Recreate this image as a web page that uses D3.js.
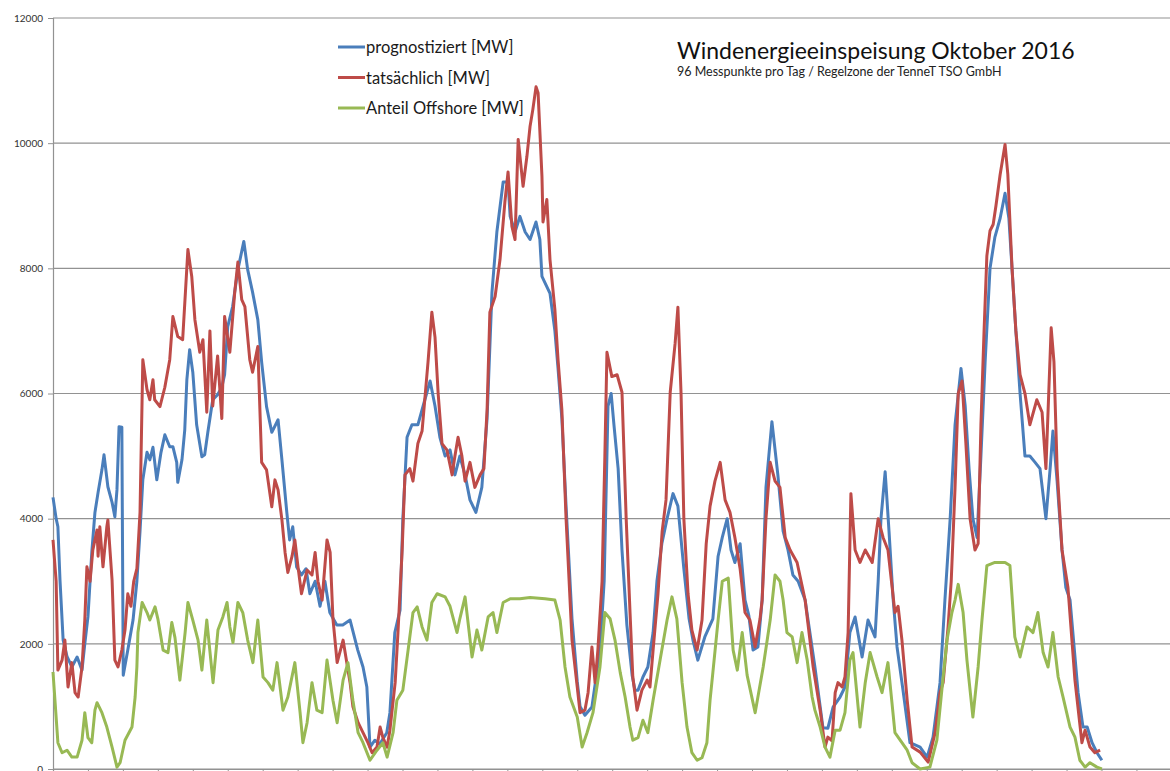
<!DOCTYPE html>
<html>
<head>
<meta charset="utf-8">
<script src="https://cdn.jsdelivr.net/npm/d3@7/dist/d3.min.js"></script>
<style>
  html, body { margin: 0; padding: 0; background: #fff; }
  svg { display: block; }
  text { font-family: Lato, "Open Sans", sans-serif; }
</style>
</head>
<body>
<div id="chart"></div>
<script>
var w = 1170,
    h = 771;

// Achsen: Tage im Oktober, Leistung in MW
var yTicks = [0, 2000, 4000, 6000, 8000, 10000, 12000];
var xTicks = d3.range(0, 33);

// Legende
var legendNames = ['prognostiziert [MW]', 'tatsächlich [MW]', 'Anteil Offshore [MW]'];
var titleText = 'Windenergieeinspeisung Oktober 2016';
var subTitleText = '96 Messpunkte pro Tag / Regelzone der TenneT TSO GmbH';

var prognose = [
  [0.00,4340],[0.09,4000],[0.14,3870],[0.20,3020],[0.29,2060],[0.40,1800],[0.54,1630],[0.69,1790],
  [0.83,1580],[0.91,2000],[1.00,2430],[1.11,3460],[1.20,4100],[1.29,4420],[1.40,4780],[1.46,5020],
  [1.57,4510],[1.69,4260],[1.77,4030],[1.83,4460],[1.89,5470],[1.97,5460],[2.01,1500],[2.14,1900],
  [2.29,2380],[2.40,3000],[2.49,3800],[2.57,4620],[2.69,5060],[2.77,4940],[2.86,5140],[2.97,4620],
  [3.09,5060],[3.20,5340],[3.34,5150],[3.43,5150],[3.54,4900],[3.57,4580],[3.69,4940],[3.77,5420],
  [3.83,6220],[3.91,6700],[4.00,6340],[4.11,5500],[4.26,4990],[4.34,5020],[4.43,5380],[4.57,5900],
  [4.71,5980],[4.83,6100],[4.91,6300],[5.00,7070],[5.14,7390],[5.29,7980],[5.46,8430],[5.57,7980],
  [5.71,7620],[5.86,7180],[5.97,6500],[6.11,5790],[6.26,5380],[6.44,5580],[6.55,4940],[6.69,4100],
  [6.77,3660],[6.86,3870],[6.97,3230],[7.11,3100],[7.24,3200],[7.35,2800],[7.50,3000],[7.64,2600],
  [7.78,3000],[7.92,2500],[8.12,2300],[8.29,2300],[8.50,2380],[8.72,1900],[8.87,1630],[8.98,1310],
  [9.07,350],[9.21,460],[9.35,400],[9.55,580],[9.64,900],[9.78,2180],[9.93,2540],[10.01,4000],
  [10.13,5300],[10.27,5500],[10.44,5500],[10.59,5800],[10.79,6200],[10.93,5800],[11.07,5300],[11.22,5000],
  [11.36,5100],[11.50,4700],[11.64,5000],[11.79,4700],[11.93,4300],[12.10,4100],[12.27,4500],[12.42,5600],
  [12.56,7620],[12.70,8580],[12.88,9380],[13.02,9380],[13.08,8830],[13.22,8580],[13.36,8830],[13.51,8580],
  [13.65,8460],[13.82,8740],[13.93,8460],[13.99,7870],[14.22,7600],[14.36,7000],[14.45,6400],[14.56,5600],
  [14.68,4200],[14.85,2400],[15.00,1400],[15.08,1000],[15.22,860],[15.42,990],[15.65,1900],[15.77,3000],
  [15.88,5800],[15.97,6000],[16.05,5500],[16.17,4800],[16.28,3500],[16.42,2300],[16.57,1500],[16.65,1260],
  [16.74,1260],[16.88,1470],[17.02,1630],[17.17,2180],[17.28,3000],[17.42,3600],[17.57,4000],[17.74,4400],
  [17.88,4200],[18.05,3200],[18.20,2400],[18.31,2060],[18.45,1740],[18.65,2110],[18.88,2400],[19.03,3400],
  [19.15,3700],[19.29,4000],[19.40,3500],[19.51,3300],[19.66,3600],[19.80,2700],[19.91,2450],[20.03,1900],
  [20.17,1950],[20.29,2700],[20.40,4500],[20.57,5550],[20.74,4700],[20.89,3800],[21.03,3500],[21.17,3100],
  [21.32,3000],[21.52,2700],[21.80,1630],[22.03,660],[22.17,650],[22.32,990],[22.52,1150],[22.66,1310],
  [22.80,2180],[22.95,2430],[23.15,1790],[23.32,2380],[23.52,2110],[23.61,3000],[23.69,4000],[23.81,4750],
  [23.92,3800],[24.04,2700],[24.15,1950],[24.32,1260],[24.52,420],[24.81,350],[25.01,190],[25.18,510],
  [25.38,1380],[25.52,2700],[25.67,4000],[25.81,5500],[25.98,6400],[26.10,5800],[26.21,4800],[26.32,4000],
  [26.44,3700],[26.55,5000],[26.67,6500],[26.81,8000],[26.95,8500],[27.10,8800],[27.24,9200],[27.35,8800],
  [27.44,8000],[27.55,7000],[27.67,6000],[27.81,5000],[27.95,5000],[28.10,4900],[28.24,4800],[28.41,4000],
  [28.53,4800],[28.61,5400],[28.73,4600],[28.87,3500],[28.98,2900],[29.10,2700],[29.33,1220],[29.47,670],
  [29.59,670],[29.73,420],[29.87,260],[30.01,140]
];

var tatsaechlich = [
  [0.00,3660],[0.09,3000],[0.14,1580],[0.26,1740],[0.34,2060],[0.43,1310],[0.54,1700],[0.63,1220],
  [0.72,1150],[0.83,1630],[0.91,2380],[0.97,3230],[1.06,3000],[1.14,3500],[1.26,3820],[1.29,3400],
  [1.34,3870],[1.43,3230],[1.54,3870],[1.57,3980],[1.69,3020],[1.77,1740],[1.86,1630],[1.97,1900],
  [2.06,2220],[2.14,2800],[2.23,2600],[2.31,3000],[2.40,3200],[2.49,4100],[2.57,6540],[2.69,6060],
  [2.77,5900],[2.86,6220],[2.91,5900],[3.06,5790],[3.20,6100],[3.34,6540],[3.43,7230],[3.57,6910],
  [3.71,6860],[3.86,8300],[3.97,7870],[4.06,7180],[4.20,6660],[4.29,6860],[4.40,5700],[4.49,7000],
  [4.57,5800],[4.71,6600],[4.83,5600],[4.91,7230],[5.06,6660],[5.20,7620],[5.29,8100],[5.40,7500],
  [5.49,7390],[5.63,6540],[5.71,6340],[5.86,6750],[5.97,4900],[6.11,4780],[6.26,4190],[6.35,4620],
  [6.44,4460],[6.55,3980],[6.64,3460],[6.72,3140],[6.84,3400],[6.92,3660],[7.01,3230],[7.11,2800],
  [7.27,3180],[7.41,3100],[7.50,3460],[7.58,3000],[7.70,2700],[7.84,3660],[7.93,3460],[8.01,2400],
  [8.13,1700],[8.30,2060],[8.50,1380],[8.58,1000],[8.73,740],[8.87,580],[9.01,420],[9.13,260],
  [9.27,350],[9.36,670],[9.44,500],[9.56,350],[9.64,620],[9.79,1380],[9.87,2180],[9.99,3500],
  [10.07,4700],[10.21,4800],[10.30,4600],[10.44,5200],[10.56,5400],[10.73,6500],[10.84,7300],[10.93,6900],
  [11.02,6000],[11.13,5200],[11.27,5100],[11.42,4700],[11.50,5000],[11.59,5300],[11.70,5000],[11.79,4600],
  [11.93,4900],[12.07,4500],[12.22,4700],[12.33,4800],[12.42,5740],[12.50,7300],[12.65,7550],[12.79,8140],
  [12.93,9060],[13.02,9540],[13.13,8670],[13.22,8460],[13.31,10060],[13.45,9310],[13.56,9790],[13.65,10270],
  [13.73,10540],[13.82,10900],[13.88,10800],[13.99,9470],[14.02,8740],[14.13,9100],[14.22,8140],[14.36,7340],
  [14.45,6540],[14.56,5740],[14.68,4000],[14.85,2060],[15.00,1310],[15.08,900],[15.22,940],[15.31,1220],
  [15.42,1950],[15.51,1380],[15.59,1900],[15.71,3000],[15.79,5000],[15.85,6660],[15.99,6270],[16.14,6300],
  [16.28,6020],[16.40,4000],[16.51,2500],[16.59,1470],[16.71,940],[16.85,1260],[17.00,1420],[17.08,1310],
  [17.17,1900],[17.31,2800],[17.43,3800],[17.54,4300],[17.66,6020],[17.80,6800],[17.88,7380],[17.97,6000],
  [18.05,4000],[18.17,2800],[18.28,2220],[18.43,1900],[18.57,2380],[18.69,3600],[18.80,4200],[18.94,4600],
  [19.09,4900],[19.23,4300],[19.37,4100],[19.51,3700],[19.66,3200],[19.80,2500],[19.94,2380],[20.09,1950],
  [20.23,2400],[20.29,2700],[20.40,4000],[20.52,4900],[20.66,4600],[20.80,4500],[20.95,3700],[21.09,3500],
  [21.29,3300],[21.52,2700],[21.75,1630],[21.95,940],[22.09,350],[22.17,510],[22.29,450],[22.38,1220],
  [22.46,1380],[22.58,1310],[22.66,1470],[22.75,2180],[22.83,4400],[22.95,3500],[23.09,3300],[23.24,3500],
  [23.44,3300],[23.61,4000],[23.75,3700],[23.89,3500],[24.09,2500],[24.18,2600],[24.29,2060],[24.44,1100],
  [24.58,350],[24.81,270],[25.04,110],[25.24,580],[25.38,1220],[25.47,1380],[25.61,2270],[25.70,3000],
  [25.81,4500],[25.90,6000],[26.01,6200],[26.12,5200],[26.24,4000],[26.38,3500],[26.47,3600],[26.55,5500],
  [26.64,7000],[26.72,8200],[26.81,8600],[26.90,8700],[26.98,9000],[27.10,9500],[27.24,9980],[27.32,9500],
  [27.44,8000],[27.55,7000],[27.67,6300],[27.81,6000],[27.95,5500],[28.15,5900],[28.30,5700],[28.41,4800],
  [28.56,7050],[28.64,6500],[28.73,4800],[28.87,3500],[29.04,2900],[29.24,1420],[29.44,420],[29.53,620],
  [29.67,350],[29.81,260],[29.96,300]
];

var offshore = [
  [0.00,1550],[0.14,420],[0.26,260],[0.40,300],[0.54,190],[0.69,190],[0.83,460],[0.91,900],
  [1.00,500],[1.11,420],[1.20,940],[1.26,1060],[1.40,900],[1.54,670],[1.69,350],[1.83,30],
  [1.92,100],[2.06,460],[2.26,670],[2.35,1150],[2.40,1630],[2.43,2180],[2.55,2660],[2.69,2500],
  [2.77,2380],[2.92,2590],[3.00,2400],[3.15,1900],[3.29,1860],[3.40,2340],[3.49,2100],[3.63,1420],
  [3.78,2180],[3.86,2660],[4.00,2380],[4.15,2060],[4.26,1580],[4.40,2380],[4.58,1380],[4.72,2220],
  [4.86,2430],[4.98,2660],[5.06,2270],[5.15,2020],[5.29,2660],[5.43,2500],[5.57,2060],[5.72,1700],
  [5.86,2380],[6.01,1470],[6.15,1380],[6.29,1260],[6.41,1700],[6.58,940],[6.72,1150],[6.92,1700],
  [7.07,900],[7.15,420],[7.27,740],[7.41,1380],[7.55,940],[7.70,900],[7.84,1740],[8.01,1100],
  [8.13,740],[8.30,1420],[8.44,1700],[8.58,1100],[8.73,580],[8.87,420],[9.07,140],[9.27,300],
  [9.44,420],[9.56,190],[9.73,580],[9.84,1100],[10.01,1260],[10.16,1900],[10.30,2500],[10.42,2590],
  [10.56,2270],[10.70,2060],[10.84,2660],[10.99,2800],[11.22,2750],[11.36,2600],[11.56,2180],[11.64,2400],
  [11.79,2750],[11.99,1790],[12.13,2220],[12.27,1900],[12.45,2430],[12.59,2500],[12.70,2180],[12.88,2660],
  [13.08,2720],[13.36,2720],[13.65,2740],[14.08,2720],[14.36,2700],[14.51,2380],[14.65,1630],[14.79,1150],
  [15.00,830],[15.14,350],[15.28,580],[15.45,900],[15.65,1630],[15.79,2500],[15.94,2400],[16.08,2060],
  [16.23,1540],[16.37,1150],[16.51,670],[16.59,460],[16.74,500],[16.88,780],[17.02,580],[17.17,1100],
  [17.37,1740],[17.57,2380],[17.71,2750],[17.85,2400],[18.00,1380],[18.14,670],[18.28,260],[18.43,140],
  [18.57,180],[18.71,420],[18.80,1100],[18.88,1540],[19.03,2380],[19.15,3000],[19.32,3050],[19.46,1900],
  [19.58,1580],[19.72,2180],[19.86,1500],[20.09,900],[20.32,1630],[20.52,2380],[20.66,3100],
  [20.80,3000],[20.89,2700],[21.00,2180],[21.15,2110],[21.29,1700],[21.43,2180],[21.58,1740],[21.72,1150],
  [21.80,940],[21.95,670],[22.09,350],[22.23,190],[22.38,620],[22.52,620],[22.66,900],[22.80,1740],
  [22.89,1860],[23.09,670],[23.24,1380],[23.38,1860],[23.58,1470],[23.72,1220],[23.89,1700],[24.09,580],
  [24.24,460],[24.44,300],[24.58,100],[24.81,0],[25.09,30],[25.29,460],[25.44,1310],[25.58,2060],
  [25.72,2500],[25.81,2700],[25.90,2950],[26.04,2500],[26.15,1740],[26.32,830],[26.47,1630],[26.58,2380],
  [26.72,3250],[26.95,3300],[27.24,3300],[27.38,3250],[27.52,2110],[27.67,1790],[27.87,2270],[28.04,2180],
  [28.18,2500],[28.33,1860],[28.47,1630],[28.61,2180],[28.76,1470],[28.90,1150],[29.10,670],[29.24,510],
  [29.38,140],[29.53,30],[29.67,100],[29.87,30],[30.01,0]
];

var seriesColors = ['#4a7ebb', '#be4b48', '#98b954'];
var seriesData = [prognose, tatsaechlich, offshore];

var margin = {left: 53, top: 18, bottom: 2};
var dayWidth = 34.95;

var x = d3.scaleLinear()
  .domain([0, 32])
  .range([margin.left, margin.left + 32 * dayWidth]);

var y = d3.scaleLinear()
  .domain([0, 12000])
  .range([h - margin.bottom, margin.top]);

var svg = d3.select('#chart')
  .append('svg')
  .attr('width', w)
  .attr('height', h);

// Gitterlinien
svg.append('g')
  .attr('class', 'grid')
  .selectAll('line')
  .data(yTicks)
  .enter()
  .append('line')
  .attr('x1', margin.left)
  .attr('x2', x(32))
  .attr('y1', function(d) { return y(d); })
  .attr('y2', function(d) { return y(d); })
  .attr('stroke', '#929292')
  .attr('stroke-width', 1.2);

// y-Achse
var yAxis = svg.append('g')
  .attr('transform', 'translate(' + margin.left + ',0)')
  .call(d3.axisLeft(y).tickValues(yTicks).tickSize(5).tickPadding(5).tickFormat(d3.format('d')));
yAxis.select('.domain').attr('stroke', '#929292').attr('stroke-width', 1.2);
yAxis.selectAll('.tick line').attr('stroke', '#929292');
yAxis.selectAll('.tick text')
  .attr('font-family', 'Lato, "Open Sans", sans-serif')
  .attr('font-size', '10px')
  .attr('fill', '#333');

// x-Achse (ein Strich pro Tag)
var xAxis = svg.append('g')
  .attr('transform', 'translate(0,' + y(0) + ')')
  .call(d3.axisBottom(x).tickValues(xTicks).tickSize(5).tickFormat(''));
xAxis.select('.domain').attr('stroke', '#929292').attr('stroke-width', 1.2);
xAxis.selectAll('.tick line').attr('stroke', '#929292');

// Linien
var line = d3.line()
  .x(function(d) { return x(d[0]); })
  .y(function(d) { return y(d[1]); });

svg.append('g')
  .attr('class', 'lines')
  .selectAll('path')
  .data(seriesData)
  .enter()
  .append('path')
  .attr('d', line)
  .attr('fill', 'none')
  .attr('stroke', function(d, i) { return seriesColors[i]; })
  .attr('stroke-width', 3)
  .attr('stroke-linejoin', 'round');

// Legende
var legend = svg.append('g')
  .attr('class', 'legend')
  .attr('transform', 'translate(338,47)');

legend.selectAll('line')
  .data(legendNames)
  .enter()
  .append('line')
  .attr('x1', 0)
  .attr('x2', 27)
  .attr('y1', function(d, i) { return i * 30.5; })
  .attr('y2', function(d, i) { return i * 30.5; })
  .attr('stroke', function(d, i) { return seriesColors[i]; })
  .attr('stroke-width', 3);

legend.selectAll('text')
  .data(legendNames)
  .enter()
  .append('text')
  .attr('x', 28)
  .attr('y', function(d, i) { return i * 30.5 + 6; })
  .attr('font-size', '16.5px')
  .attr('fill', '#1a1a1a')
  .text(function(d) { return d; });

// Titel
svg.append('text')
  .attr('x', 677)
  .attr('y', 59)
  .attr('font-size', '23px')
  .attr('fill', '#111')
  .text(titleText);

svg.append('text')
  .attr('x', 677)
  .attr('y', 76)
  .attr('font-size', '12.5px')
  .attr('fill', '#222')
  .text(subTitleText);
</script>
</body>
</html>
